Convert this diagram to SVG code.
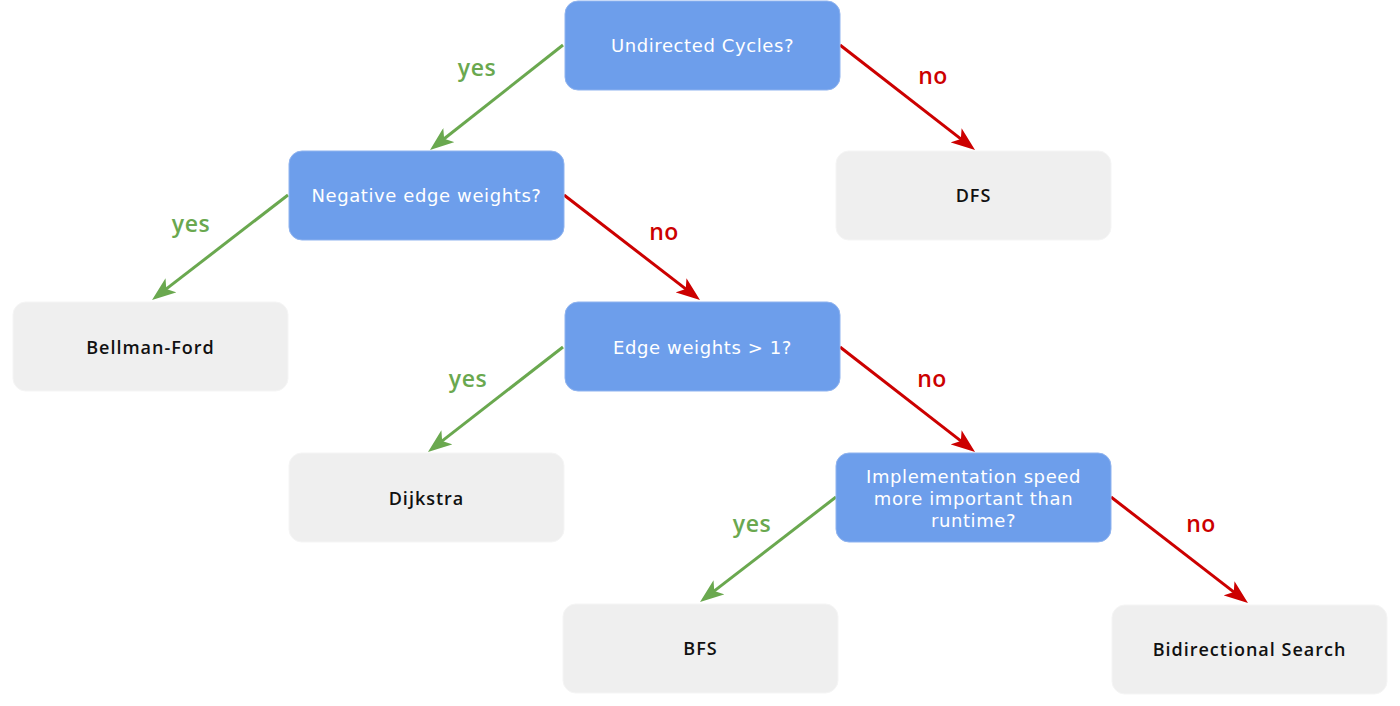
<svg xmlns="http://www.w3.org/2000/svg" width="1400" height="706" viewBox="0 0 1400 706">
<defs>
<style>
.q rect{fill:#6d9eeb;stroke:#8fb3ef;stroke-width:1}
.a rect{fill:#efefef;stroke:#f5f5f5;stroke-width:1}
.q text{fill:#ffffff;font-family:"DejaVu Sans","Open Sans",sans-serif;font-size:18px;text-anchor:middle;letter-spacing:0.6px}
.a text{fill:#111111;font-family:"Open Sans","Noto Sans",sans-serif;font-size:18px;font-weight:600;text-anchor:middle;letter-spacing:1px}
.y{stroke:#6aa84f;stroke-width:3;fill:none}
.n{stroke:#cc0000;stroke-width:3;fill:none}
.ly{fill:#6aa84f;font-family:"Open Sans","Noto Sans",sans-serif;font-size:23px;font-weight:600;text-anchor:middle;letter-spacing:0.5px}
.ln{fill:#cc0000;font-family:"Open Sans","Noto Sans",sans-serif;font-size:23px;font-weight:600;text-anchor:middle;letter-spacing:0.5px}
</style>
<marker id="ag" markerUnits="userSpaceOnUse" markerWidth="24" markerHeight="18" viewBox="0 0 24 18" refX="10" refY="9" orient="auto"><path d="M0,0 L24,9 L0,18 L6,9 z" fill="#6aa84f"/></marker>
<marker id="ar" markerUnits="userSpaceOnUse" markerWidth="24" markerHeight="18" viewBox="0 0 24 18" refX="10" refY="9" orient="auto"><path d="M0,0 L24,9 L0,18 L6,9 z" fill="#cc0000"/></marker>
</defs>
<rect width="1400" height="706" fill="#ffffff"/>
<g id="connectors">
<line class="y" x1="563" y1="45" x2="441" y2="141.3" marker-end="url(#ag)"/>
<line class="n" x1="840" y1="45" x2="964" y2="141.4" marker-end="url(#ar)"/>
<line class="y" x1="288" y1="195" x2="163.1" y2="291.4" marker-end="url(#ag)"/>
<line class="n" x1="564" y1="195" x2="688.9" y2="291.4" marker-end="url(#ar)"/>
<line class="y" x1="563" y1="347" x2="439" y2="443.4" marker-end="url(#ag)"/>
<line class="n" x1="840" y1="347" x2="964" y2="443.4" marker-end="url(#ar)"/>
<line class="y" x1="836" y1="497" x2="711.1" y2="593.4" marker-end="url(#ag)"/>
<line class="n" x1="1111" y1="497" x2="1236.9" y2="594.4" marker-end="url(#ar)"/>
<text class="ly" x="477" y="76">yes</text>
<text class="ln" x="933" y="84">no</text>
<text class="ly" x="191" y="232">yes</text>
<text class="ln" x="664" y="240">no</text>
<text class="ly" x="468" y="387">yes</text>
<text class="ln" x="932" y="387">no</text>
<text class="ly" x="752" y="532">yes</text>
<text class="ln" x="1201" y="532">no</text>
</g>
<g id="n-undirected" class="q"><rect x="565" y="1" width="275" height="89" rx="13"/><text x="702.5" y="52">Undirected Cycles?</text></g>
<g id="n-negative" class="q"><rect x="289" y="151" width="275" height="89" rx="13"/><text x="426.5" y="202">Negative edge weights?</text></g>
<g id="n-dfs" class="a"><rect x="836" y="151" width="275" height="89" rx="13"/><text x="973.5" y="201.5">DFS</text></g>
<g id="n-bellman" class="a"><rect x="13" y="302" width="275" height="89" rx="13"/><text x="150.5" y="353.5">Bellman-Ford</text></g>
<g id="n-edge1" class="q"><rect x="565" y="302" width="275" height="89" rx="13"/><text x="702.5" y="354">Edge weights &gt; 1?</text></g>
<g id="n-dijkstra" class="a"><rect x="289" y="453" width="275" height="89" rx="13"/><text x="426.5" y="504.5">Dijkstra</text></g>
<g id="n-impl" class="q"><rect x="836" y="453" width="275" height="89" rx="13"/><text x="973.5" y="483"><tspan x="973.5">Implementation speed</tspan><tspan x="973.5" dy="22">more important than</tspan><tspan x="973.5" dy="22">runtime?</tspan></text></g>
<g id="n-bfs" class="a"><rect x="563" y="604" width="275" height="89" rx="13"/><text x="700.5" y="654.5">BFS</text></g>
<g id="n-bidir" class="a"><rect x="1112" y="605" width="275" height="89" rx="13"/><text x="1249.5" y="656">Bidirectional Search</text></g>
</svg>
